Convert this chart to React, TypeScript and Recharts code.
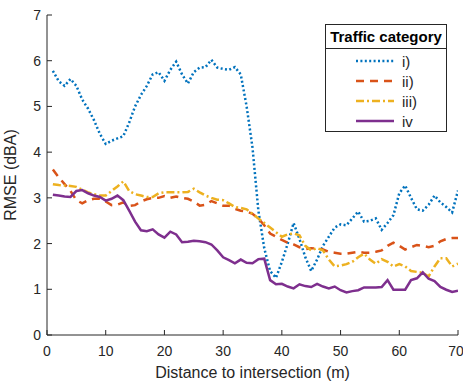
import { LineChart, Line, XAxis, YAxis, Legend, Label } from 'recharts';

const distance = [
  1, 2, 3, 4, 5, 6, 7, 8, 9, 10, 11, 12, 13, 14, 15, 16, 17, 18, 19, 20,
  21, 22, 23, 24, 25, 26, 27, 28, 29, 30, 31, 32, 33, 34, 35, 36, 37, 38, 39, 40,
  41, 42, 43, 44, 45, 46, 47, 48, 49, 50, 51, 52, 53, 54, 55, 56, 57, 58, 59, 60,
  61, 62, 63, 64, 65, 66, 67, 68, 69, 70,
];

const catI = [
  5.78, 5.55, 5.45, 5.6, 5.45, 5.15, 4.95, 4.7, 4.4, 4.18, 4.25, 4.3, 4.35, 4.65, 5.0, 5.25, 5.45, 5.7, 5.75, 5.56,
  5.8, 5.98, 5.7, 5.5, 5.75, 5.85, 5.86, 6.02, 5.85, 5.82, 5.8, 5.86, 5.7, 5.0, 4.1, 2.72, 1.9, 1.4, 1.25, 1.6,
  2.0, 2.45, 2.1, 1.7, 1.4, 1.65, 1.95, 2.15, 2.35, 2.42, 2.4, 2.55, 2.7, 2.48, 2.5, 2.55, 2.3, 2.45, 2.62, 3.1,
  3.27, 3.0, 2.75, 2.72, 2.85, 3.05, 2.9, 2.8, 2.68, 3.16,
];

const catII = [
  3.62, 3.45, 3.3, 3.15, 2.95, 2.88, 2.95, 2.98, 2.98, 2.92, 2.84, 2.85, 2.9, 2.82, 2.84, 2.92, 2.97, 3.0, 3.0, 3.04,
  3.0, 3.03, 3.0, 2.98, 2.92, 2.83, 2.85, 2.93, 2.88, 2.83, 2.83, 2.76, 2.72, 2.7, 2.65, 2.55, 2.4, 2.22, 2.15, 2.08,
  2.02, 1.98, 1.92, 1.88, 1.9, 1.89, 1.87, 1.82, 1.8, 1.78, 1.78, 1.8, 1.82, 1.8, 1.8, 1.82, 1.85, 1.95, 2.02, 1.95,
  1.87, 1.92, 1.97, 1.95, 1.92, 1.95, 2.05, 2.1, 2.12, 2.12,
];

const catIII = [
  3.3, 3.28, 3.27, 3.26, 3.24, 3.18, 3.12, 3.08, 3.05, 3.05, 3.15, 3.25, 3.36, 3.15, 3.08, 3.05, 3.02, 3.02, 3.1, 3.12,
  3.12, 3.12, 3.12, 3.13, 3.2, 3.12, 3.05, 3.0, 2.96, 2.95, 2.88, 2.8, 2.78, 2.75, 2.65, 2.55, 2.45, 2.35, 2.25, 2.15,
  2.2, 2.22, 2.18, 1.95, 1.85, 1.9, 1.85, 1.65, 1.5, 1.52, 1.55, 1.6, 1.7, 1.78, 1.65, 1.56, 1.66, 1.6, 1.5, 1.55,
  1.5, 1.4, 1.38, 1.36, 1.28, 1.5, 1.68, 1.68, 1.5, 1.56,
];

const catIV = [
  3.07, 3.05, 3.03, 3.02, 3.15, 3.17, 3.1, 3.05, 3.02, 2.94, 2.98, 3.05, 2.95, 2.72, 2.48, 2.29, 2.27, 2.31, 2.2, 2.13,
  2.26, 2.2, 2.03, 2.04, 2.06, 2.05, 2.03, 1.98, 1.85, 1.7, 1.64, 1.57, 1.65, 1.58, 1.57, 1.66, 1.67, 1.2, 1.11, 1.12,
  1.06, 1.02, 1.11, 1.07, 1.05, 1.12, 1.06, 1.02, 1.06, 0.98, 0.93, 0.96, 0.98, 1.04, 1.04, 1.04, 1.05, 1.2, 0.99, 0.99,
  0.99, 1.2, 1.24, 1.37, 1.23, 1.18, 1.05, 0.99, 0.94, 0.97,
];

const categories = ['i)', 'ii)', 'iii)', 'iv'];
const xTicks = [0, 10, 20, 30, 40, 50, 60, 70];
const yTicks = [0, 1, 2, 3, 4, 5, 6, 7];

const data = distance.map((d, i) => ({
  d,
  i: catI[i],
  ii: catII[i],
  iii: catIII[i],
  iv: catIV[i],
}));

const AXIS = '#262626';
const FONT = '"Liberation Sans", Arial, Helvetica, sans-serif';

const series = [
  { key: 'i', color: '#0072BD', dash: '2 2.4' },
  { key: 'ii', color: '#D95319', dash: '8 6' },
  { key: 'iii', color: '#EDB120', dash: '8 3 2 3' },
  { key: 'iv', color: '#7E2F8E', dash: undefined },
];

const renderLegend = () => (
  <div
    style={{
      border: `1px solid ${AXIS}`,
      background: '#fff',
      width: 120,
      height: 106,
      fontFamily: FONT,
      color: AXIS,
      boxSizing: 'content-box',
      textAlign: 'left',
    }}
  >
    <div
      style={{
        fontWeight: 'bold',
        fontSize: 15,
        textAlign: 'center',
        height: 23,
        lineHeight: '24px',
        borderBottom: `1px solid ${AXIS}`,
        color: '#000',
      }}
    >
      Traffic category
    </div>
    <div style={{ paddingTop: 2 }}>
      {series.map((s, idx) => (
        <div key={s.key} style={{ height: 20, display: 'flex', alignItems: 'center' }}>
          <svg width={70} height={20}>
            <line
              x1={30}
              x2={68}
              y1={10}
              y2={10}
              stroke={s.color}
              strokeWidth={2.5}
              strokeDasharray={s.dash}
            />
          </svg>
          <span style={{ fontSize: 15, marginLeft: 6 }}>{categories[idx]}</span>
        </div>
      ))}
    </div>
  </div>
);

const App = () => {
  return (
    <div style={{ position: 'absolute', left: 0, top: 0 }}>
      <LineChart
        width={463}
        height={384}
        data={data}
        margin={{ top: 15, right: 5, bottom: 0, left: 0 }}
      >
        <XAxis
          dataKey="d"
          type="number"
          domain={[0, 70]}
          ticks={xTicks}
          allowDataOverflow
          height={49}
          stroke={AXIS}
          tickSize={-5}
          tickMargin={16}
          tick={{ fill: AXIS, fontSize: 14, fontFamily: FONT }}
        >
          <Label
            value="Distance to intersection (m)"
            position="insideBottom"
            offset={6}
            style={{ fill: AXIS, fontSize: 16, fontFamily: FONT }}
          />
        </XAxis>
        <XAxis
          xAxisId="top"
          orientation="top"
          type="number"
          domain={[0, 70]}
          ticks={xTicks}
          allowDataOverflow
          height={0}
          stroke={AXIS}
          tickSize={-5}
          tick={false}
        />
        <YAxis
          type="number"
          domain={[0, 7]}
          ticks={yTicks}
          allowDataOverflow
          width={47}
          stroke={AXIS}
          tickSize={-5}
          tickMargin={11}
          tick={{ fill: AXIS, fontSize: 14, fontFamily: FONT }}
        >
          <Label
            value="RMSE (dBA)"
            angle={-90}
            position="insideLeft"
            offset={0}
            dx={10}
            style={{ fill: AXIS, fontSize: 16, fontFamily: FONT, textAnchor: 'middle' }}
          />
        </YAxis>
        <YAxis
          yAxisId="right"
          orientation="right"
          type="number"
          domain={[0, 7]}
          ticks={yTicks}
          allowDataOverflow
          width={0}
          stroke={AXIS}
          tickSize={-5}
          tick={false}
        />
        {series.map((s, idx) => (
          <Line
            key={s.key}
            dataKey={s.key}
            name={categories[idx]}
            stroke={s.color}
            strokeWidth={2.5}
            strokeDasharray={s.dash}
            dot={false}
            activeDot={false}
            isAnimationActive={false}
          />
        ))}
        <Legend
          layout="horizontal"
          verticalAlign="middle"
          align="center"
          content={renderLegend}
          wrapperStyle={{ position: 'absolute', left: 325, top: 24, width: 'auto', height: 'auto' }}
        />
      </LineChart>
    </div>
  );
};

export default App;
